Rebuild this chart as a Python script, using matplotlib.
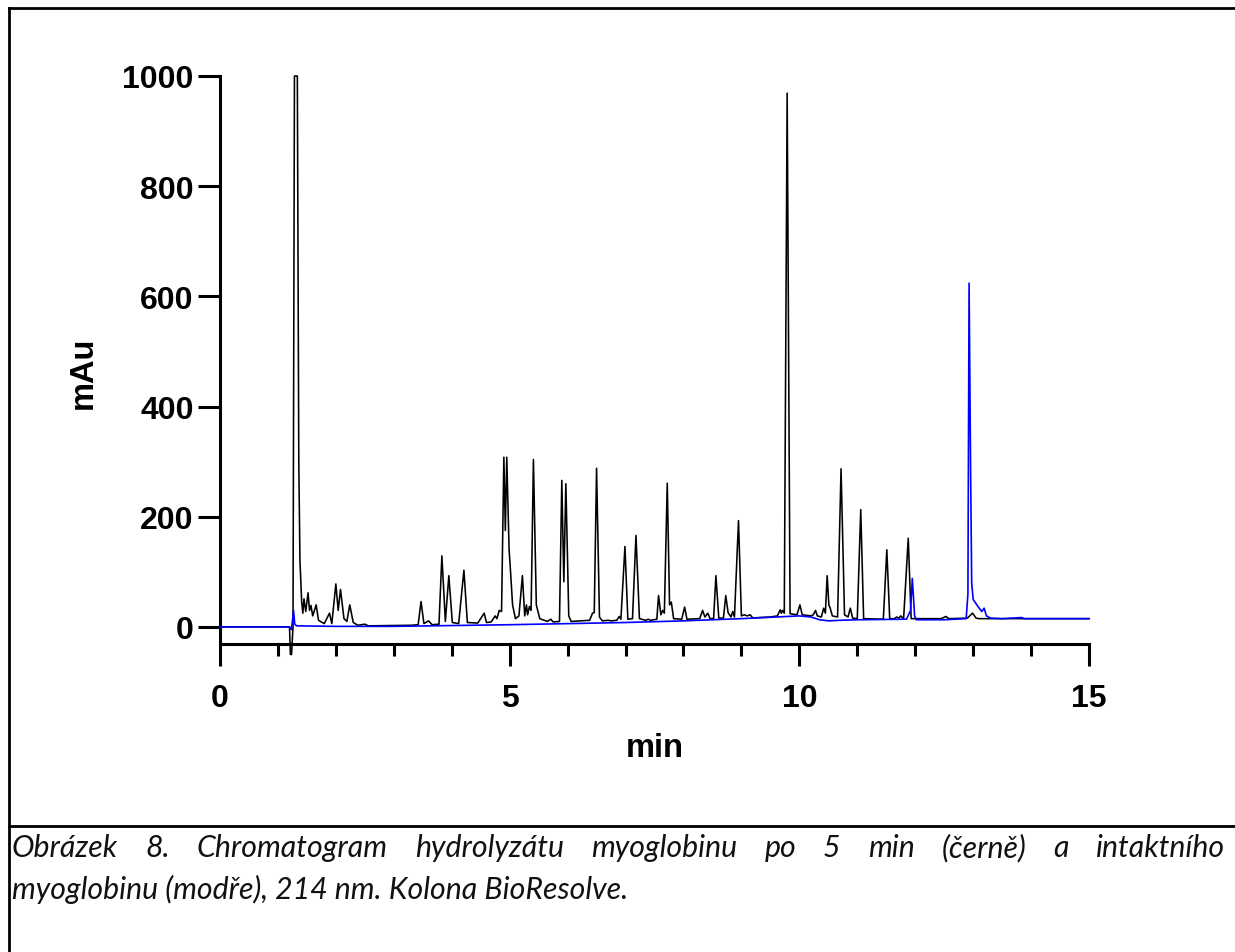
import matplotlib
matplotlib.use("Agg")
import matplotlib.pyplot as plt
from matplotlib.lines import Line2D
from matplotlib.ticker import MultipleLocator

plt.rcParams['font.family'] = ['Liberation Sans', 'DejaVu Sans']

# black trace: hydrolyzate after 5 min (time in min, signal in mAu)
black_t = [0.00, 1.20, 1.215, 1.235, 1.26, 1.285, 1.335, 1.36, 1.38, 1.41, 1.43,
           1.45, 1.48, 1.52, 1.545, 1.57, 1.60, 1.66, 1.70, 1.80, 1.89, 1.93,
           2.00, 2.04, 2.08, 2.14, 2.19, 2.24, 2.30, 2.38, 2.50, 2.56, 3.30,
           3.42, 3.47, 3.52, 3.60, 3.66, 3.78, 3.83, 3.89, 3.95, 4.01, 4.12,
           4.21, 4.27, 4.45, 4.56, 4.60, 4.68, 4.75, 4.78, 4.82, 4.86, 4.90,
           4.925, 4.95, 4.99, 5.01, 5.05, 5.10, 5.16, 5.22, 5.26, 5.29, 5.31,
           5.34, 5.37, 5.41, 5.46, 5.52, 5.65, 5.71, 5.75, 5.86, 5.90, 5.935,
           5.97, 6.02, 6.06, 6.38, 6.43, 6.46, 6.50, 6.55, 6.60, 6.70, 6.75,
           6.85, 6.89, 6.92, 6.99, 7.04, 7.12, 7.18, 7.24, 7.35, 7.39, 7.43,
           7.54, 7.57, 7.61, 7.64, 7.67, 7.72, 7.76, 7.79, 7.83, 7.97, 8.02,
           8.06, 8.28, 8.33, 8.37, 8.42, 8.46, 8.52, 8.56, 8.61, 8.69, 8.73,
           8.77, 8.82, 8.85, 8.88, 8.95, 9.00, 9.05, 9.10, 9.15, 9.20, 9.30,
           9.50, 9.62, 9.67, 9.69, 9.71, 9.74, 9.79, 9.84, 9.96, 10.01, 10.05,
           10.20, 10.24, 10.28, 10.31, 10.38, 10.42, 10.45, 10.48, 10.51, 10.53,
           10.57, 10.66, 10.72, 10.78, 10.84, 10.88, 10.92, 11.00, 11.06, 11.11,
           11.45, 11.51, 11.56, 11.64, 11.68, 11.72, 11.75, 11.80, 11.88, 11.93,
           12.45, 12.53, 12.58, 12.90, 12.99, 13.05, 13.10, 15.00]
black_y = [0, 0, -50, -50, 0, 1000, 1000, 300, 120, 45, 25,
           51, 28, 62, 30, 39, 20, 40, 12, 6, 25, 6,
           78, 30, 68, 15, 10, 40, 8, 3, 5, 2, 3,
           4, 46, 6, 11, 4, 5, 129, 10, 93, 8, 6,
           103, 8, 7, 25, 8, 9, 20, 15, 30, 28, 308,
           175, 308, 140, 109, 40, 15, 20, 93, 20, 40, 22,
           37, 30, 304, 40, 15, 10, 14, 9, 10, 266, 82,
           260, 20, 10, 12, 25, 26, 288, 18, 11, 12, 11,
           12, 19, 14, 146, 14, 15, 166, 15, 12, 14, 12,
           14, 57, 22, 30, 25, 261, 40, 45, 15, 14, 36,
           14, 15, 30, 18, 25, 15, 15, 93, 16, 16, 57,
           26, 18, 28, 18, 193, 20, 22, 20, 22, 16, 17,
           18, 20, 31, 25, 30, 25, 969, 24, 22, 40, 22,
           20, 22, 30, 20, 18, 34, 25, 93, 40, 35,
           20, 18, 287, 22, 18, 34, 16, 15, 213, 15,
           14, 140, 15, 15, 18, 16, 20, 15, 161, 15,
           15, 19, 15, 16, 25, 16, 15, 15]

# blue trace: intact myoglobin
blue_t = [0.00, 1.20, 1.23, 1.25, 1.27, 1.29, 1.32, 2.00, 3.00, 5.00, 7.00,
          8.00, 9.00, 10.00, 10.20, 10.35, 10.50, 10.70, 11.00, 11.85, 11.92,
          11.95, 11.99, 12.02, 12.50, 12.88, 12.91, 12.93, 12.955, 12.975, 13.00,
          13.09, 13.15, 13.19, 13.23, 13.30, 13.50, 13.84, 13.88, 15.00]
blue_y = [0, 0, -5, 10, 30, 5, 2, 1, 1, 4, 8,
          11, 15, 20, 18, 13, 11, 12, 13, 14, 30,
          88, 20, 13, 13, 15, 60, 624, 300, 80, 50,
          36, 28, 34, 20, 16, 15, 17, 15, 15]

x_ticks = [0, 5, 10, 15]
y_ticks = [0, 200, 400, 600, 800, 1000]

caption_1 = "Obrázek 8. Chromatogram hydrolyzátu myoglobinu po 5 min (černě) a intaktního"
caption_2 = "myoglobinu (modře), 214 nm. Kolona BioResolve."

W, H = 1235, 953
fig = plt.figure(figsize=(W / 100, H / 100), dpi=100)
ax = fig.add_axes([220 / W, 1 - 645 / H, 869 / W, 568 / H])

ax.plot(black_t, black_y, color='black', lw=1.15, clip_on=False, zorder=2)
ax.plot(blue_t, blue_y, color='#0000ff', lw=1.2, clip_on=False, zorder=3)

ax.set_xlim(0, 15)
ax.set_ylim(-31, 1000)
ax.set_xticks(x_ticks)
ax.set_yticks(y_ticks)
ax.xaxis.set_minor_locator(MultipleLocator(1))

for s in ['top', 'right']:
    ax.spines[s].set_visible(False)
for s in ['left', 'bottom']:
    ax.spines[s].set_linewidth(2.2)

ax.tick_params(axis='both', which='major', length=16, width=2.2, labelsize=23)
ax.tick_params(axis='x', which='minor', length=8.5, width=2.2)
ax.tick_params(axis='x', which='major', pad=12)
ax.tick_params(axis='y', which='major', pad=3)
for lab in ax.get_xticklabels() + ax.get_yticklabels():
    lab.set_fontweight('bold')

ax.set_xlabel('min', fontsize=23.5, fontweight='bold')
ax.set_ylabel('mAu', fontsize=23.5, fontweight='bold')
ax.xaxis.set_label_coords(0.5, -0.155)
ax.yaxis.set_label_coords(-0.140, 0.48)

# page frame around the figure and the caption
lw_frame = 2.0
fig.add_artist(Line2D([8.5 / W, 8.5 / W], [0, 1 - 9 / H], color='black', lw=lw_frame))
fig.add_artist(Line2D([8.5 / W, 1], [1 - 9 / H, 1 - 9 / H], color='black', lw=lw_frame))
fig.add_artist(Line2D([8.5 / W, 1], [1 - 826.5 / H, 1 - 826.5 / H], color='black', lw=lw_frame))

# caption: first line justified, second line left aligned
cap_font = dict(family=['Lato', 'DejaVu Sans'], style='italic', color='#111111')
fig.canvas.draw()
r = fig.canvas.get_renderer()
probe = fig.text(0, 0, caption_2, fontsize=20, **cap_font)
w2 = probe.get_window_extent(r).width
probe.remove()
cap_size = 20 * 616 / w2

y1 = 1 - 857 / H
y2 = 1 - 899 / H
fig.text(12 / W, y2, caption_2, fontsize=cap_size, ha='left', va='baseline', **cap_font)

words = caption_1.split()
texts = [fig.text(0, y1, w, fontsize=cap_size, va='baseline', **cap_font) for w in words]
widths = [t.get_window_extent(r).width for t in texts]
x0, x1 = 12, 1225
gap = (x1 - x0 - sum(widths)) / (len(words) - 1)
x = x0
for t, w in zip(texts, widths):
    t.set_x(x / W)
    x += w + gap

fig.savefig('out.png', dpi=100)
